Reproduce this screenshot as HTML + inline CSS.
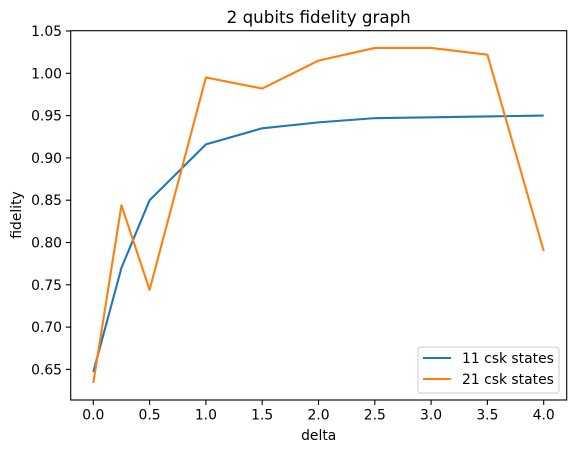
<!DOCTYPE html>
<html><head><meta charset="utf-8"><style>
body{margin:0;background:#fff;font-family:"Liberation Sans","DejaVu Sans",sans-serif;}
svg text{font-family:"DejaVu Sans","Liberation Sans",sans-serif;fill:#000;}
</style></head><body>
<svg id="chart" width="576" height="453" xmlns="http://www.w3.org/2000/svg">
<text x="318.7" y="23" font-size="16.7" text-anchor="middle">2 qubits fidelity graph</text>
<g id="plot"></g>
<rect x="70.7" y="30.7" width="496" height="369.3" fill="none" stroke="#000" stroke-width="1.1"/>
<text x="318.7" y="440" font-size="13.9" text-anchor="middle">delta</text>
<text transform="translate(21,215) rotate(-90)" font-size="13.9" text-anchor="middle">fidelity</text>
<g>
<rect x="418" y="347" width="141" height="46" rx="3" fill="#fff" fill-opacity="0.8" stroke="#ccc"/>
<line x1="423" y1="358" x2="451" y2="358" stroke="#1f77b4" stroke-width="2.1"/>
<text x="462" y="363" font-size="13.9">11 csk states</text>
<line x1="423" y1="379" x2="451" y2="379" stroke="#ff7f0e" stroke-width="2.1"/>
<text x="462" y="384" font-size="13.9">21 csk states</text>
</g>
</svg>
<script>
const xValues=[0,0.25,0.5,1,1.5,2,2.5,3,3.5,4];
const series11=[0.647,0.770,0.850,0.916,0.935,0.942,0.947,0.948,0.949,0.950];
const series21=[0.634,0.844,0.744,0.995,0.982,1.015,1.030,1.030,1.022,0.790];
const xTicks=[0,0.5,1,1.5,2,2.5,3,3.5,4];
const xTickLabels=["0.0","0.5","1.0","1.5","2.0","2.5","3.0","3.5","4.0"];
const yTicks=[0.65,0.70,0.75,0.80,0.85,0.90,0.95,1.00,1.05];
const yTickLabels=["0.65","0.70","0.75","0.80","0.85","0.90","0.95","1.00","1.05"];
const NS="http://www.w3.org/2000/svg";
function xs(v){return 93.3+v*112.6;}
function ys(v){return 73.3-(v-1.0)*846;}
const g=document.getElementById('plot');
function mk(t,a){const e=document.createElementNS(NS,t);for(const k in a)e.setAttribute(k,a[k]);g.appendChild(e);return e;}
xTicks.forEach((t,i)=>{
  const l=mk('line',{x1:xs(t),x2:xs(t),y1:400,y2:404.9,stroke:'#000','stroke-width':1.1});
  
  
  const tx=mk('text',{x:xs(t),y:419.5,'font-size':13.9,'text-anchor':'middle'});
  tx.textContent=xTickLabels[i];
  
  
});
yTicks.forEach((t,i)=>{
  const l=mk('line',{x1:65.8,x2:70.7,y1:ys(t),y2:ys(t),stroke:'#000','stroke-width':1.1});
  
  
  const tx=mk('text',{x:62,y:ys(t)+5,'font-size':13.9,'text-anchor':'end'});
  tx.textContent=yTickLabels[i];
  
  
});
function line(vals,color,name){
  const p=mk('polyline',{points:vals.map((v,i)=>xs(xValues[i])+','+ys(v)).join(' '),fill:'none',stroke:color,'stroke-width':2.1,'stroke-linejoin':'round'});
  
  
}
line(series11,'#1f77b4','line-11-csk-states');
line(series21,'#ff7f0e','line-21-csk-states');
</script>
</body></html>
